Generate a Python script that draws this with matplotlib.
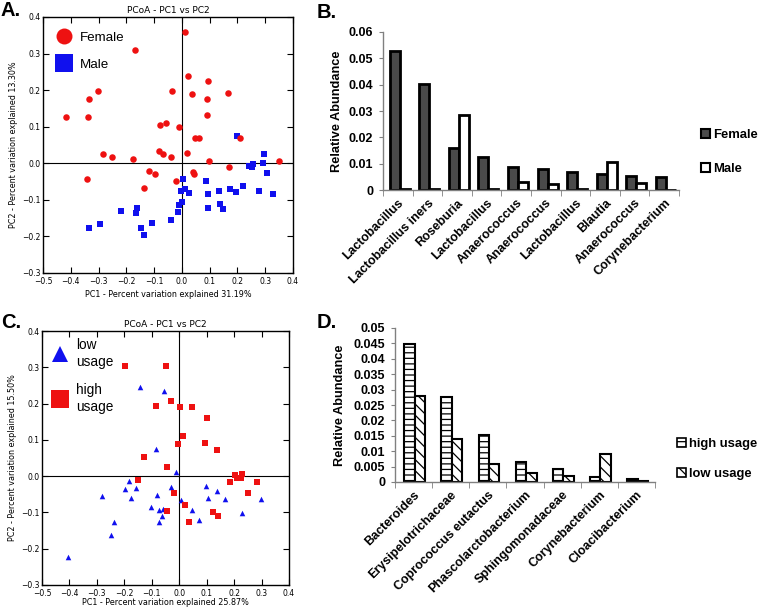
import matplotlib
matplotlib.use('Agg')
import matplotlib.pyplot as plt
import numpy as np
from matplotlib.lines import Line2D
from matplotlib.patches import Patch
from matplotlib.ticker import FuncFormatter

# ---- panel A: PCoA by sex ----
fem_x = [-0.417, -0.338, -0.334, -0.303, -0.169, -0.079, -0.058, -0.036, -0.011, 0.011,
         0.022, 0.036, 0.047, 0.063, 0.094, 0.090, 0.166, 0.090, 0.210, -0.284,
         -0.252, -0.176, -0.082, -0.068, -0.040, 0.017, -0.341, -0.119, -0.097, -0.137,
         -0.022, 0.040, 0.043, 0.097, 0.169, 0.349]
fem_y = [0.126, 0.126, 0.175, 0.197, 0.311, 0.104, 0.109, 0.197, 0.098, 0.358,
         0.240, 0.189, 0.068, 0.068, 0.224, 0.175, 0.191, 0.131, 0.068, 0.025,
         0.017, 0.011, 0.033, 0.025, 0.017, 0.027, -0.044, -0.022, -0.030, -0.068,
         -0.049, -0.025, -0.030, 0.005, -0.011, 0.005]
male_x = [0.004, 0.011, -0.004, 0.025, 0.000, -0.011, -0.014, -0.040, -0.108, -0.162,
          -0.166, -0.219, -0.295, -0.335, -0.147, -0.137, 0.086, 0.094, 0.094, 0.133,
          0.137, 0.148, 0.173, 0.194, 0.219, 0.241, 0.252, 0.255, 0.291, 0.295,
          0.306, 0.277, 0.327, 0.200]
male_y = [-0.044, -0.071, -0.076, -0.082, -0.106, -0.114, -0.132, -0.155, -0.163, -0.122,
          -0.136, -0.130, -0.167, -0.177, -0.177, -0.197, -0.049, -0.085, -0.122, -0.076,
          -0.112, -0.125, -0.071, -0.079, -0.063, -0.008, -0.011, -0.003, 0.000, 0.025,
          -0.027, -0.076, -0.085, 0.074]

# ---- panel C: PCoA by usage ----
low_x = [-0.144, -0.057, -0.086, -0.013, -0.184, -0.196, -0.159, -0.031, -0.081, -0.174,
         -0.283, 0.005, -0.104, -0.074, -0.060, -0.063, -0.074, 0.047, 0.071, -0.236,
         -0.250, -0.406, 0.096, 0.139, 0.104, 0.166, 0.297, 0.228]
low_y = [0.247, 0.236, 0.074, 0.012, -0.013, -0.035, -0.033, -0.029, -0.051, -0.060,
         -0.054, -0.067, -0.086, -0.092, -0.090, -0.109, -0.125, -0.092, -0.122, -0.127,
         -0.161, -0.224, -0.026, -0.040, -0.059, -0.062, -0.062, -0.101]
high_x = [-0.199, -0.049, -0.031, -0.086, 0.002, 0.046, 0.013, -0.005, 0.100, 0.093,
          0.137, -0.130, -0.046, -0.152, -0.020, 0.020, -0.045, 0.035, 0.203, 0.228,
          0.209, 0.224, 0.184, 0.282, 0.250, 0.123, 0.141]
high_y = [0.304, 0.304, 0.208, 0.194, 0.191, 0.191, 0.112, 0.089, 0.161, 0.092,
          0.073, 0.054, 0.024, -0.010, -0.046, -0.079, -0.095, -0.125, 0.004, 0.007,
          -0.004, -0.004, -0.015, -0.015, -0.046, -0.098, -0.109]

# ---- panel B: abundance by sex ----
taxa_b = ['Lactobacillus', 'Lactobacillus iners', 'Roseburia', 'Lactobacillus',
          'Anaerococcus', 'Anaerococcus', 'Lactobacillus', 'Blautia',
          'Anaerococcus', 'Corynebacterium']
female_ab = [0.0527, 0.0402, 0.0160, 0.0125, 0.0088, 0.0080, 0.0068, 0.0060, 0.0053, 0.0049]
male_ab = [0.0003, 0.0003, 0.0285, 0.0003, 0.0030, 0.0022, 0.0003, 0.0106, 0.0027, 0.0]

# ---- panel D: abundance by usage ----
taxa_d = ['Bacteroides', 'Erysipelotrichaceae', 'Coprococcus eutactus',
          'Phascolarctobacterium', 'Sphingomonadaceae', 'Corynebacterium', 'Cloacibacterium']
high_ab = [0.0449, 0.0275, 0.0151, 0.0066, 0.0042, 0.0017, 0.0010]
low_ab = [0.0278, 0.0140, 0.0059, 0.0029, 0.0021, 0.0092, 0.0003]

W, H = 760, 609
fig = plt.figure(figsize=(W / 100, H / 100), dpi=100)
plt.rcParams['hatch.linewidth'] = 0.9
BFONT = 9


def px_rect(x0, x1, y0, y1):
    return [x0 / W, 1 - y1 / H, (x1 - x0) / W, (y1 - y0) / H]


def pcoa_axes(rect, xlab, ylab, xlab_y):
    ax = fig.add_axes(rect)
    ax.set_xlim(-0.5, 0.4)
    ax.set_ylim(-0.3, 0.4)
    ax.set_xticks(np.round(np.arange(-0.5, 0.41, 0.1), 1))
    ax.set_yticks(np.round(np.arange(-0.3, 0.41, 0.1), 1))
    ax.tick_params(direction='in', top=True, right=True, length=4, width=0.8,
                   labelsize=5.5, pad=2)
    ax.tick_params(axis='x', pad=3.2)
    for s in ax.spines.values():
        s.set_linewidth(1.0)
    ax.axhline(0, color='k', lw=0.8, zorder=1)
    ax.axvline(0, color='k', lw=0.8, zorder=1)
    ax.set_title('PCoA - PC1 vs PC2', fontsize=6.5, pad=3)
    ax.set_xlabel(xlab, fontsize=5.8)
    ax.set_ylabel(ylab, fontsize=5.8)
    ax.xaxis.set_label_coords(0.5, xlab_y)
    ax.yaxis.set_label_coords(-0.1, 0.5)
    return ax


axA = pcoa_axes(px_rect(43, 293, 17, 273), 'PC1 - Percent variation explained 31.19%',
                'PC2 - Percent variation explained 13.30%', -0.066)
axA.scatter(male_x, male_y, marker='s', s=20, color='#1010ee', linewidths=0, zorder=3)
axA.scatter(fem_x, fem_y, marker='o', s=22, color='#ee1111', linewidths=0, zorder=3)
hA = [Line2D([], [], ls='none', marker='o', ms=11.5, color='#ee1111', mew=0),
      Line2D([], [], ls='none', marker='s', ms=12.5, color='#1010ee', mew=0)]
axA.legend(hA, ['Female', 'Male'], loc='upper left', bbox_to_anchor=(0.05, 0.943),
           frameon=False, borderpad=0, borderaxespad=0, handlelength=1.3,
           handletextpad=0.5, labelspacing=1.08,
           prop={'family': 'Liberation Sans', 'size': 9.6})

axC = pcoa_axes(px_rect(42, 289, 331, 585), 'PC1 - Percent variation explained 25.87%',
                'PC2 - Percent variation explained 15.50%', -0.053)
axC.scatter(low_x, low_y, marker='^', s=16, color='#1010ee', linewidths=0, zorder=3)
axC.scatter(high_x, high_y, marker='s', s=20, color='#ee1111', linewidths=0, zorder=3)
hC = [Line2D([], [], ls='none', marker='^', ms=12, color='#1010ee', mew=0),
      Line2D([], [], ls='none', marker='s', ms=12.5, color='#ee1111', mew=0)]
legC = axC.legend(hC, ['low\nusage', 'high\nusage'], loc='upper left',
                  bbox_to_anchor=(0.038, 0.972), frameon=False, borderpad=0,
                  borderaxespad=0, handlelength=1.3, handletextpad=0.5, labelspacing=1.0,
                  prop={'family': 'Liberation Sans', 'size': 9.8})
for t in legC.get_texts():
    t.set_linespacing(1.3)


def bar_axes(rect, taxa, top, step, lab_x):
    ax = fig.add_axes(rect)
    n = len(taxa)
    ax.set_xlim(-0.5, n - 0.5)
    ax.set_ylim(0, top)
    for k in ['top', 'right']:
        ax.spines[k].set_visible(False)
    for k in ['left', 'bottom']:
        ax.spines[k].set_color('#808080')
        ax.spines[k].set_linewidth(1.0)
    ax.set_xticks(np.arange(n))
    ax.set_xticklabels(taxa, rotation=45, ha='right', va='top', rotation_mode='anchor',
                       fontsize=BFONT, fontweight='bold', family='Liberation Sans')
    ax.set_xticks(np.arange(n + 1) - 0.5, minor=True)
    ax.tick_params(axis='x', which='major', length=0, pad=5)
    ax.tick_params(axis='x', which='minor', length=4, color='#808080', direction='out')
    yt = np.arange(0, top + step / 2, step)
    ax.set_yticks(yt)
    ax.yaxis.set_major_formatter(FuncFormatter(lambda v, p: '%g' % round(v, 4)))
    ax.tick_params(axis='y', length=3, color='#808080', direction='out', pad=4)
    for t in ax.get_yticklabels():
        t.set_fontweight('bold')
        t.set_fontsize(BFONT)
        t.set_family('Liberation Sans')
    ax.set_ylabel('Relative Abundance', fontsize=9.2, fontweight='bold',
                  family='Liberation Sans')
    ax.yaxis.set_label_coords(lab_x, 0.5)
    return ax


axB = bar_axes(px_rect(383, 679, 32, 190), taxa_b, 0.06, 0.01, -0.135)
xb = np.arange(len(taxa_b))
wb = 0.34
axB.bar(xb - wb / 2 + 0.06, female_ab, wb, color='#4a4a4a', edgecolor='k', lw=2)
axB.bar(xb + wb / 2 + 0.06, male_ab, wb, color='white', edgecolor='k', lw=2)
hB = [Patch(facecolor='#4a4a4a', edgecolor='k', lw=1.5), Patch(facecolor='white', edgecolor='k', lw=1.5)]
fig.legend(hB, ['Female', 'Male'], loc='center left', bbox_to_anchor=(701 / W, 1 - 152 / H),
           frameon=False, borderpad=0, borderaxespad=0, handlelength=0.7, handleheight=0.7,
           handletextpad=0.2, labelspacing=1.65,
           prop={'family': 'Liberation Sans', 'size': 9.4, 'weight': 'bold'})

axD = bar_axes(px_rect(395, 655, 328, 482), taxa_d, 0.05, 0.005, -0.19)
xd = np.arange(len(taxa_d))
wd = 0.28
axD.bar(xd - wd / 2 + 0.03, high_ab, wd, color='white', edgecolor='k', lw=1.5, hatch='---')
axD.bar(xd + wd / 2 + 0.03, low_ab, wd, color='white', edgecolor='k', lw=1.5, hatch='\\\\\\')
hD = [Patch(facecolor='white', edgecolor='k', lw=1.2, hatch='---'),
      Patch(facecolor='white', edgecolor='k', lw=1.2, hatch='\\\\\\')]
fig.legend(hD, ['high usage', 'low usage'], loc='center left', bbox_to_anchor=(677 / W, 1 - 459 / H),
           frameon=False, borderpad=0, borderaxespad=0, handlelength=0.7, handleheight=0.7,
           handletextpad=0.2, labelspacing=1.4,
           prop={'family': 'Liberation Sans', 'size': 9.4, 'weight': 'bold'})

lab = dict(fontsize=14.5, fontweight='bold', family='Liberation Sans', va='center', ha='left')
fig.text(0.001, 1 - 10 / H, 'A.', **lab)
fig.text(317 / W, 1 - 12 / H, 'B.', **lab)
fig.text(0.001, 1 - 322 / H, 'C.', **lab)
fig.text(317 / W, 1 - 322 / H, 'D.', **lab)

fig.savefig('out.png', dpi=100)
